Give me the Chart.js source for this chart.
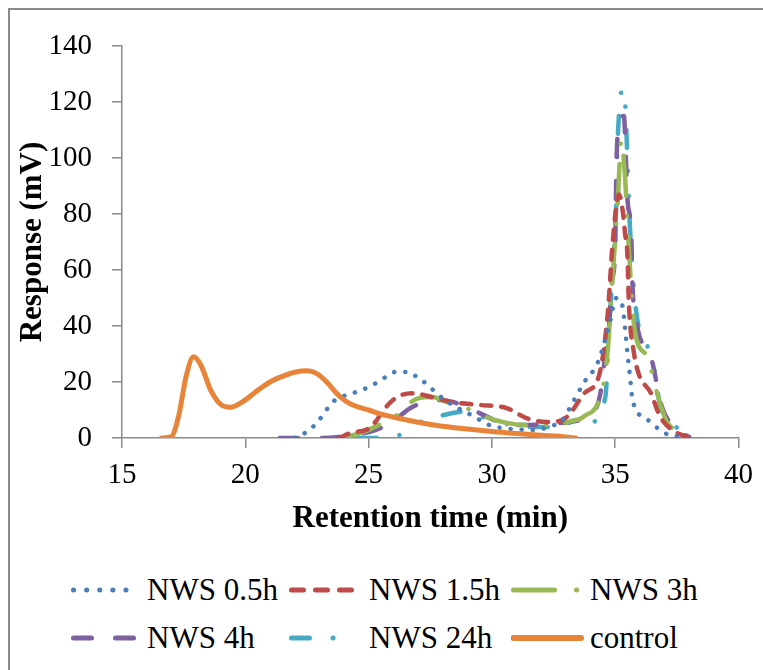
<!DOCTYPE html>
<html>
<head>
<meta charset="utf-8">
<script src="https://cdn.jsdelivr.net/npm/chart.js@4.4.1/dist/chart.umd.min.js"></script>
<style>
  body { margin: 0; background: #fff; font-family: "Liberation Serif", "Times New Roman", serif; }
  #frame { position: absolute; left: 8px; top: 8px; width: 800px; height: 700px;
           border-left: 2px solid #8a8a8a; border-top: 2px solid #8a8a8a; }
  #wrap { position: absolute; left: 0; top: 0; width: 763px; height: 560px; }
  .leg { position: absolute; height: 40px; line-height: 40px; font-size: 31px; color: #000; white-space: nowrap; }
  .leg svg { position: absolute; top: 15px; }
</style>
</head>
<body>
<div id="frame"></div>
<div id="wrap"><canvas id="chart"></canvas></div>
<div id="legend"></div>
<script>
// retention time (min) / response (mV) per sample
const nws05Time = [22.0, 22.1, 22.55, 22.9, 23.2, 23.5, 24.0, 24.35, 24.8, 25.3, 25.7, 26.1, 26.6, 27.0, 27.4, 27.75, 28.2, 28.55, 29.0, 29.4, 29.9, 30.8, 31.8, 32.3, 32.85, 33.3, 33.75, 34.3, 34.75, 35.05, 35.3, 35.4, 35.5, 35.6, 35.7, 36.25, 37.0, 37.6];
const nws05Resp = [0, 0.4, 2.5, 5.4, 8.8, 12.5, 15, 16, 17.4, 19.6, 21.8, 23.6, 23.6, 21.5, 19, 16, 13, 11, 9, 7, 4.6, 3.2, 2.9, 4, 6.4, 13, 20, 27, 40, 50, 47, 39, 30, 22, 13.6, 7, 1.8, 0.3];

const nws15Time = [23.8, 24.35, 24.9, 25.3, 25.55, 26.1, 26.8, 27.6, 28.4, 29.5, 30.6, 31.4, 32.2, 32.7, 33.1, 33.75, 34.35, 34.7, 34.9, 35.15, 35.3, 35.4, 35.5, 35.55, 35.75, 35.95, 36.45, 36.8, 37.3, 37.9];
const nws15Resp = [0, 2, 2.9, 6, 9.3, 14.3, 16, 14.5, 12.8, 11.8, 10.7, 7.1, 5.7, 6, 8, 16, 22.5, 44.6, 70, 87, 81.4, 73, 64.6, 49, 31, 23, 16, 8, 2.9, 0.4];

const nws3Time = [23.9, 24.75, 25.4, 26.2, 26.6, 27.05, 27.6, 28.15, 28.95, 29.75, 30.6, 31.6, 32.7, 33.2, 33.7, 34.5, 34.7, 34.85, 35.1, 35.25, 35.4, 35.55, 35.8, 36.3, 36.7, 37.1, 37.9];
const nws3Resp = [0, 2, 4.6, 8.5, 12, 14.3, 14.6, 12.9, 10.7, 7.5, 5.4, 4.6, 4.6, 6, 7.5, 18, 31.4, 51.8, 84, 106.4, 93, 68, 38, 29, 16, 5.7, 1.8];

const nws4Time = [21.4, 23.1, 23.8, 25.3, 26.0, 26.7, 27.75, 28.4, 29.5, 30.3, 31.1, 32.85, 33.6, 34.15, 34.4, 34.6, 34.75, 34.85, 35.0, 35.05, 35.2, 35.35, 35.5, 35.65, 35.7, 35.9, 36.45, 36.9, 37.5, 38.0];
const nws4Resp = [0, 0, 0.4, 2.9, 6, 10.7, 13.6, 12.9, 8.9, 5.7, 4.6, 5.4, 6.5, 9.3, 16, 30, 39.6, 55, 68, 98, 113.6, 115, 85, 73, 55, 39.6, 29, 11, 3, 0.4];

const nws24Time = [24.6, 25.5, 26.35, 27.1, 27.75, 28.8, 30.0, 31.4, 32.6, 33.0, 34.0, 34.6, 34.75, 34.9, 35.05, 35.1, 35.35, 35.5, 35.6, 35.75, 35.95, 36.3, 36.6, 36.8, 37.6, 37.95];
const nws24Resp = [0, 0, 1.4, 5.7, 7.5, 9.3, 6.4, 3.9, 3.9, 5.4, 5.7, 14.6, 37.5, 61, 85, 106, 125, 99, 75, 54, 39.6, 33, 24, 12.5, 2.9, 0];

const controlTime = [16.6, 17.0, 17.3, 17.6, 17.9, 18.2, 18.6, 19.0, 19.4, 19.9, 20.5, 21.0, 21.5, 22.0, 22.5, 22.9, 23.3, 23.7, 24.1, 24.6, 25.0, 25.5, 26.0, 26.5, 27.0, 27.5, 28.0, 29.0, 30.0, 31.0, 32.0, 33.0, 33.4];
const controlResp = [0, 0.5, 8, 22, 29, 26, 17, 12, 11, 13, 17, 20, 22, 23.5, 24, 23, 20, 16, 13, 11, 10, 8.5, 7.5, 6.5, 5.6, 4.8, 4.2, 3.2, 2.3, 1.6, 1, 0.4, 0];

const seriesNames = ['NWS 0.5h', 'NWS 1.5h', 'NWS 3h', 'NWS 4h', 'NWS 24h', 'control'];
const xTicks = [15, 20, 25, 30, 35, 40];
const yTicks = [0, 20, 40, 60, 80, 100, 120, 140];

function toPoints(xs, ys) {
  return xs.map((x, i) => ({x: x, y: ys[i]}));
}

function line(label, xs, ys, color, dash, width) {
  return {
    label: label,
    data: toPoints(xs, ys),
    borderColor: color,
    backgroundColor: color,
    borderWidth: width || 4.5,
    borderDash: dash,
    borderCapStyle: 'round',
    borderJoinStyle: 'round',
    showLine: true,
    pointRadius: 0,
    cubicInterpolationMode: 'monotone'
  };
}

const colors = ['#4A7EBB', '#BE4B48', '#98B954', '#7D60A0', '#46AAC5', '#E8843A'];
const dashes = [[0.1, 11], [10, 10], [40, 20, 0.1, 20], [18, 24], [18, 23, 0.1, 25, 0.1, 23], []];

const datasets = [
  line(seriesNames[5], controlTime, controlResp, colors[5], dashes[5], 5),
  line(seriesNames[0], nws05Time, nws05Resp, colors[0], dashes[0]),
  line(seriesNames[1], nws15Time, nws15Resp, colors[1], dashes[1]),
  line(seriesNames[2], nws3Time, nws3Resp, colors[2], dashes[2]),
  line(seriesNames[3], nws4Time, nws4Resp, colors[3], dashes[3]),
  line(seriesNames[4], nws24Time, nws24Resp, colors[4], dashes[4])
];

const axisGray = '#8a8a8a';
const tickFont = {family: 'Liberation Serif', size: 29};
const titleFont = {family: 'Liberation Serif', size: 31, weight: 'bold'};

new Chart(document.getElementById('chart'), {
  type: 'scatter',
  data: {datasets: datasets},
  options: {
    responsive: true,
    maintainAspectRatio: false,
    animation: false,
    devicePixelRatio: 1,
    layout: {padding: {top: 46, right: 23, left: 0, bottom: 0}},
    scales: {
      x: {
        type: 'linear',
        min: 15, max: 40,
        afterFit: s => { s.height = 122; },
        afterBuildTicks: s => { s.ticks = xTicks.map(v => ({value: v})); },
        grid: {drawOnChartArea: false, drawTicks: true, tickLength: 10, color: axisGray, lineWidth: 1.5},
        border: {color: axisGray, width: 1.5},
        ticks: {font: tickFont, color: '#000', padding: 10, maxRotation: 0, autoSkip: false},
        title: {display: true, text: 'Retention time (min)', font: titleFont, color: '#000', padding: {top: 0, bottom: 22}}
      },
      y: {
        min: 0, max: 140,
        afterFit: s => { s.width = 122; },
        afterBuildTicks: s => { s.ticks = yTicks.map(v => ({value: v})); },
        grid: {drawOnChartArea: false, drawTicks: true, tickLength: 10, color: axisGray, lineWidth: 1.5},
        border: {color: axisGray, width: 1.5},
        ticks: {font: tickFont, color: '#000', padding: 20, autoSkip: false},
        title: {display: true, text: 'Response (mV)', font: titleFont, color: '#000', padding: {top: 14, bottom: 0}}
      }
    },
    plugins: {
      legend: {display: false},
      tooltip: {enabled: false}
    }
  }
});

// legend: two rows of three, line samples drawn as svg
const legendRows = [590, 638];
const sampleX = [71, 289, 511];
const textX = [147, 369, 590];
const svgDash = ['0.1 13', '12 12', '41 22 0.1 100', '18 24', '18 23.5 0.1 25 0.1 100', ''];
const legend = document.getElementById('legend');
seriesNames.forEach((name, i) => {
  const row = Math.floor(i / 3), col = i % 3;
  const el = document.createElement('div');
  el.className = 'leg';
  el.style.left = sampleX[col] + 'px';
  el.style.top = (legendRows[row] - 20) + 'px';
  const w = textX[col] - sampleX[col];
  el.innerHTML = '<svg width="' + w + '" height="10" style="left:0">' +
    '<line x1="2.5" y1="5" x2="' + (i === 5 ? 70 : 66) + '" y2="5" stroke="' + colors[i] + '" stroke-width="' + (i === 5 ? 6 : 5) +
    '" stroke-linecap="round"' + (svgDash[i] ? ' stroke-dasharray="' + svgDash[i] + '"' : '') + '/></svg>' +
    '<span style="position:absolute;left:' + w + 'px;top:0">' + name + '</span>';
  legend.appendChild(el);
});
</script>
</body>
</html>
